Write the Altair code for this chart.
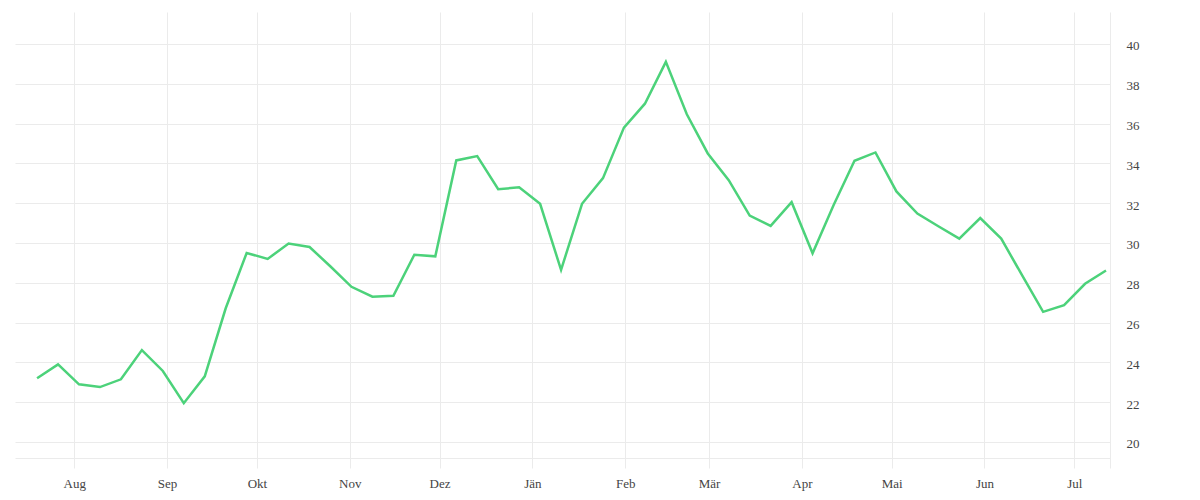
import altair as alt
import pandas as pd

start_date = "2018-07-19 14:00"
values = [23.2, 23.9, 22.9, 22.76, 23.15, 24.62, 23.57, 21.95, 23.3, 26.72,
          29.5, 29.2, 29.97, 29.8, 28.82, 27.8, 27.3, 27.35, 29.41, 29.33,
          34.15, 34.37, 32.7, 32.8, 31.97, 28.65, 31.97, 33.26, 35.8, 37.0,
          39.1, 36.47, 34.5, 33.16, 31.38, 30.86, 32.05, 29.48, 31.9, 34.13,
          34.55, 32.59, 31.48, 30.84, 30.22, 31.25, 30.22, 28.37, 26.54, 26.88,
          27.95, 28.62]
month_names = ["Jän", "Feb", "Mär", "Apr", "Mai", "Jun",
               "Jul", "Aug", "Sep", "Okt", "Nov", "Dez"]
y_ticks = [20, 22, 24, 26, 28, 30, 32, 34, 36, 38, 40]

dates = pd.date_range(start_date, periods=len(values), freq="7D")
df = pd.DataFrame({"date": dates.strftime("%Y-%m-%dT%H:%M:%S"), "value": values})

month_ticks = [alt.DateTime(year=2018 + (7 + i) // 12, month=(7 + i) % 12 + 1, date=1)
               for i in range(12)]
labels_js = "[" + ",".join("'" + m + "'" for m in month_names) + "]"

GRID = "#ebebeb"
FONT = "Liberation Serif"

chart = alt.Chart(df).mark_line(color="#4cd27a", strokeWidth=2.5).encode(
    x=alt.X("date:T",
            scale=alt.Scale(domain=[alt.DateTime(year=2018, month=7, date=12, hours=5),
                                    alt.DateTime(year=2019, month=7, date=12, hours=22)]),
            axis=alt.Axis(title=None, values=month_ticks,
                          labelExpr=labels_js + "[month(datum.value)]",
                          grid=True, gridColor=GRID, ticks=False, domain=True,
                          domainColor=GRID, offset=-10, labelPadding=19,
                          labelFont=FONT, labelFontSize=13, labelColor="#444444")),
    y=alt.Y("value:Q",
            scale=alt.Scale(domain=[18.693, 41.608], nice=False, zero=False),
            axis=alt.Axis(title=None, orient="right", values=y_ticks,
                          grid=True, gridColor=GRID, ticks=False, tickSize=0,
                          domain=True, domainColor=GRID, labelPadding=16,
                          labelOffset=2,
                          labelFont=FONT, labelFontSize=13, labelColor="#444444")),
).properties(
    width=1095, height=456,
    background="white",
    padding={"left": 7, "top": 4, "right": 5, "bottom": 5},
).configure_view(stroke=None)

chart.save("out.html", embed_options={"renderer": "svg", "actions": False})
